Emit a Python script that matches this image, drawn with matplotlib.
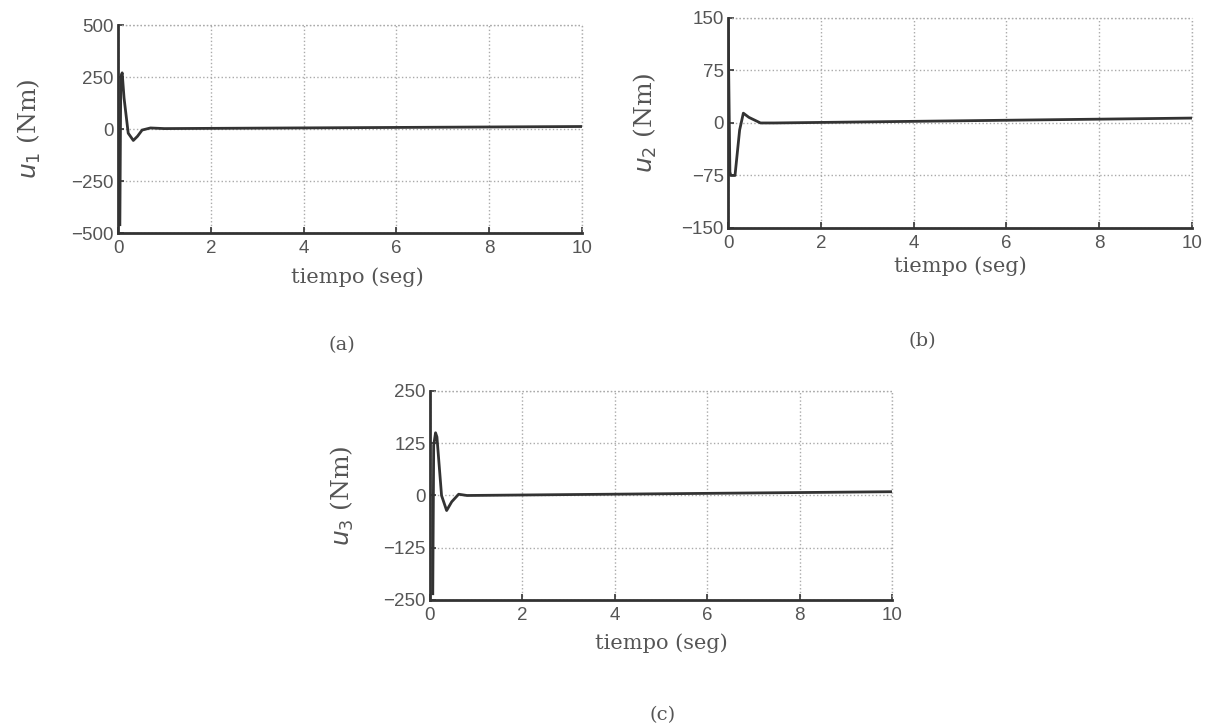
import numpy as np
import matplotlib
matplotlib.use('Agg')
import matplotlib.pyplot as plt

# values
t1 = [0.04, 0.06, 0.09, 0.13, 0.22, 0.33, 0.42, 0.52, 0.7, 1.0, 10]
u1 = [-460, 250, 270, 150, -20, -55, -35, -5, 5, 2, 12]

t2 = [0.0, 0.04, 0.06, 0.15, 0.25, 0.33, 0.45, 0.7, 1.0, 10]
u2 = [150, -70, -75, -75, -10, 14, 8, 0, 0, 7]

t3 = [0.06, 0.08, 0.12, 0.15, 0.25, 0.36, 0.47, 0.62, 0.8, 10]
u3 = [-235, 120, 150, 140, 0, -36, -15, 3, 0, 9]

x_ticks = [0, 2, 4, 6, 8, 10]
y_ticks_1 = [-500, -250, 0, 250, 500]
y_ticks_2 = [-150, -75, 0, 75, 150]
y_ticks_3 = [-250, -125, 0, 125, 250]

y_labels = ['$u_1$ (Nm)', '$u_2$ (Nm)', '$u_3$ (Nm)']
captions = ['(a)', '(b)', '(c)']

TEXT = '#555555'
LINE = '#333333'
GRID = '#aaaaaa'


def make_panel(fig, rect, t, u, yticks, ylabel, ylab_x, xlab_pos, caption, cap_xy):
    ax = fig.add_axes(rect)
    ax.plot(t, u, color=LINE, lw=2.0, zorder=3)
    ax.set_xlim(0, 10)
    ax.set_ylim(yticks[0], yticks[-1])
    ax.set_xticks(x_ticks)
    ax.set_yticks(yticks)
    ax.set_xticklabels([str(v) for v in x_ticks], family='Liberation Sans',
                       fontsize=13.5, color=TEXT)
    ax.set_yticklabels([str(v).replace('-', '\u2212') for v in yticks],
                       family='Liberation Sans', fontsize=13.5, color=TEXT)
    ax.tick_params(direction='in', length=4, width=1.2, color=LINE)
    ax.tick_params(axis='x', pad=5)
    ax.tick_params(axis='y', pad=3)
    ax.grid(True, linestyle=':', color=GRID, lw=1.0)
    # dotted lines at the outer limits, like MATLAB's box-off grid
    ax.axhline(yticks[-1], linestyle=':', color=GRID, lw=1.0, clip_on=False)
    ax.axvline(10, linestyle=':', color=GRID, lw=1.0, clip_on=False)
    for side in ['top', 'right']:
        ax.spines[side].set_visible(False)
    for side in ['left', 'bottom']:
        ax.spines[side].set_color(LINE)
        ax.spines[side].set_linewidth(2.0)
    ax.set_xlabel('tiempo (seg)', family='DejaVu Serif', fontsize=15,
                  color=TEXT)
    ax.xaxis.label.set_va('center')
    ax.xaxis.set_label_coords(*xlab_pos)
    ax.set_ylabel(ylabel, family='DejaVu Serif', fontsize=18, color=TEXT)
    ax.yaxis.label.set_va('center')
    ax.yaxis.set_label_coords(ylab_x, 0.5)
    fig.text(cap_xy[0] / 1214, 1 - cap_xy[1] / 727, caption, ha='center',
             va='center', family='DejaVu Serif', fontsize=14, color=TEXT)
    return ax


fig = plt.figure(figsize=(12.14, 7.27), dpi=100)

make_panel(fig, [0.0972, 0.6795, 0.3822, 0.2861], t1, u1, y_ticks_1,
           y_labels[0], -0.19, (0.515, -0.212), captions[0], (342, 345))
make_panel(fig, [0.5997, 0.6864, 0.3822, 0.2889], t2, u2, y_ticks_2,
           y_labels[1], -0.179, (0.5, -0.181), captions[1], (922, 341))
make_panel(fig, [0.3542, 0.1747, 0.3806, 0.2875], t3, u3, y_ticks_3,
           y_labels[2], -0.19, (0.5, -0.206), captions[2], (663, 715))

fig.savefig('out.png', dpi=100, facecolor='white')
